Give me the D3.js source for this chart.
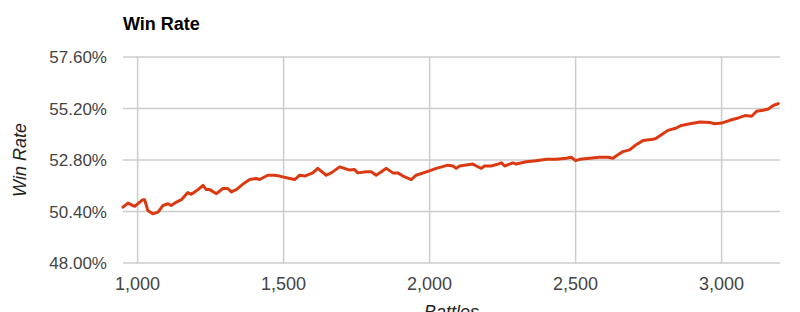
<!DOCTYPE html>
<html>
<head>
<meta charset="utf-8">
<script src="https://cdn.jsdelivr.net/npm/d3@7"></script>
<style>
  body { margin: 0; background: #fff; }
  svg { display: block; font-family: Arial, "Liberation Sans", sans-serif; }
</style>
</head>
<body>
<div id="chart"></div>
<script>
// Win rate by number of battles
const battles = [950, 967, 990, 1018, 1024, 1035, 1052, 1070, 1087, 1104, 1115, 1133, 1150, 1172, 1184,
  1207, 1224, 1235, 1247, 1270, 1292, 1309, 1321, 1338, 1366, 1384, 1406, 1418, 1446, 1469, 1486,
  1521, 1538, 1555, 1572, 1600, 1617, 1646, 1663, 1692, 1726, 1743, 1754, 1783, 1800, 1817, 1852,
  1874, 1891, 1909, 1937, 1954, 1989, 2023, 2063, 2080, 2091, 2103, 2120, 2148, 2160, 2177, 2188,
  2211, 2234, 2246, 2257, 2274, 2285, 2297, 2331, 2365, 2400, 2434, 2468, 2485, 2500, 2514, 2548,
  2582, 2611, 2628, 2645, 2662, 2685, 2702, 2731, 2765, 2776, 2799, 2816, 2845, 2862, 2892, 2926,
  2960, 2977, 3000, 3028, 3057, 3080, 3103, 3120, 3142, 3160, 3177, 3194];
const winRate = [50.60, 50.79, 50.64, 50.95, 50.95, 50.45, 50.29, 50.37, 50.68, 50.76, 50.68, 50.84, 50.95, 51.28, 51.20,
  51.42, 51.62, 51.42, 51.42, 51.23, 51.47, 51.47, 51.31, 51.42, 51.73, 51.89, 51.94, 51.89, 52.09, 52.09, 52.05,
  51.94, 51.89, 52.09, 52.05, 52.20, 52.41, 52.09, 52.20, 52.48, 52.33, 52.36, 52.20, 52.25, 52.25, 52.09, 52.41,
  52.20, 52.20, 52.05, 51.89, 52.09, 52.25, 52.41, 52.56, 52.52, 52.41, 52.52, 52.56, 52.61, 52.52, 52.41, 52.52,
  52.52, 52.61, 52.67, 52.52, 52.61, 52.67, 52.61, 52.72, 52.77, 52.83, 52.83, 52.88, 52.93, 52.77, 52.83, 52.88,
  52.93, 52.93, 52.88, 53.04, 53.19, 53.27, 53.46, 53.71, 53.77, 53.81, 54.02, 54.18, 54.29, 54.41, 54.49, 54.57,
  54.55, 54.49, 54.52, 54.65, 54.76, 54.87, 54.84, 55.07, 55.12, 55.18, 55.34, 55.43];
const yTicks = [48.0, 50.4, 52.8, 55.2, 57.6];
const xTicks = [1000, 1500, 2000, 2500, 3000];

const W = 800, H = 312;
const margin = {top: 57, right: 20, bottom: 49, left: 123};
const data = battles.map((b, i) => ({b, r: winRate[i]}));

const svg = d3.select("#chart").append("svg").attr("width", W).attr("height", H);

const x = d3.scaleLinear().domain([950, 3200]).range([margin.left, W - margin.right]);
const y = d3.scaleLinear().domain([48, 57.6]).range([H - margin.bottom, margin.top]);

// gridlines
svg.append("g").selectAll("line").data(yTicks).join("line")
  .attr("x1", margin.left).attr("x2", W - margin.right)
  .attr("y1", d => y(d)).attr("y2", d => y(d))
  .attr("stroke", "#cccccc").attr("stroke-width", 1.5);
svg.append("g").selectAll("line").data(xTicks).join("line")
  .attr("x1", d => x(d)).attr("x2", d => x(d))
  .attr("y1", margin.top).attr("y2", H - margin.bottom)
  .attr("stroke", "#cccccc").attr("stroke-width", 1.5);

// tick labels
svg.append("g").selectAll("text").data(yTicks).join("text")
  .attr("x", 107).attr("y", d => y(d)).attr("dy", "0.36em")
  .attr("text-anchor", "end").style("font-size", "17px").attr("fill", "#444")
  .text(d => d3.format(".2f")(d) + "%");
svg.append("g").selectAll("text").data(xTicks).join("text")
  .attr("x", d => x(d)).attr("y", 290)
  .attr("text-anchor", "middle").style("font-size", "18px").attr("fill", "#444")
  .text(d => d3.format(",")(d));

// line
svg.append("path").datum(data)
  .attr("fill", "none").attr("stroke", "#dc3912").attr("stroke-width", 3)
  .attr("stroke-linejoin", "round").attr("stroke-linecap", "round")
  .attr("d", d3.line().x(d => x(d.b)).y(d => y(d.r)));

// titles
svg.append("text").attr("x", margin.left).attr("y", 30)
  .style("font-size", "18px").style("font-weight", "bold").attr("fill", "#000")
  .text("Win Rate");
svg.append("text").attr("transform", `translate(26,${(margin.top + H - margin.bottom) / 2}) rotate(-90)`)
  .attr("text-anchor", "middle").style("font-size", "18px").style("font-style", "italic").attr("fill", "#222")
  .text("Win Rate");
svg.append("text").attr("x", (margin.left + W - margin.right) / 2).attr("y", 318)
  .attr("text-anchor", "middle").style("font-size", "18px").style("font-style", "italic").attr("fill", "#222")
  .text("Battles");
</script>
</body>
</html>
